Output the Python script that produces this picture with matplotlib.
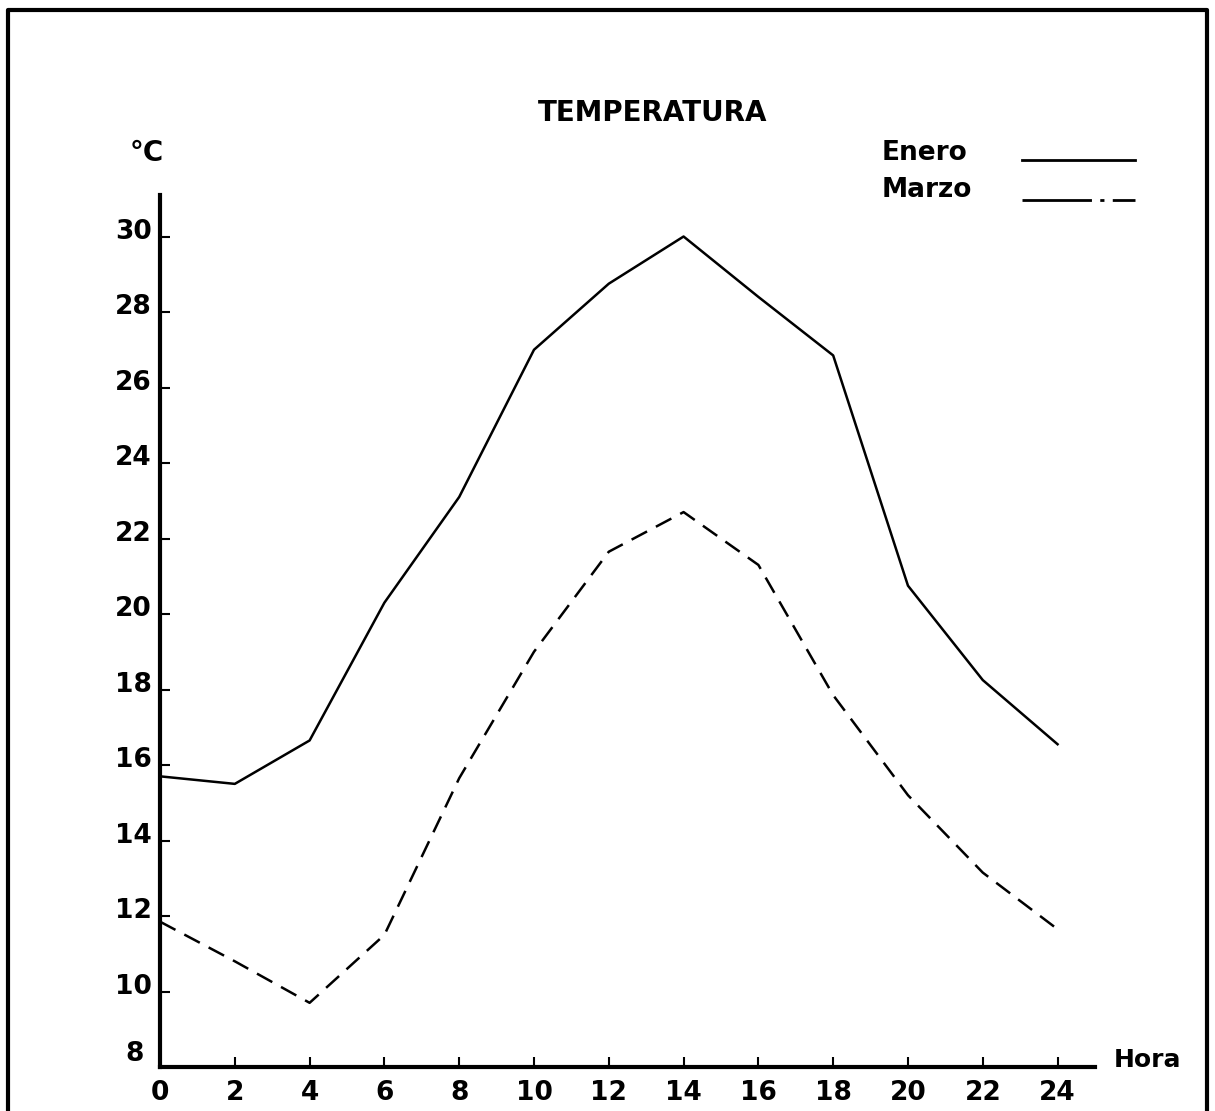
import matplotlib
matplotlib.use("Agg")
import matplotlib.pyplot as plt
import matplotlib.transforms as mtransforms
from matplotlib.lines import Line2D

# hours of the day
hora = [0, 2, 4, 6, 8, 10, 12, 14, 16, 18, 20, 22, 24]
# temperatura media horaria (°C)
enero = [15.7, 15.5, 16.65, 20.3, 23.1, 27.0, 28.75, 30.0, 28.4, 26.85, 20.75, 18.25, 16.55]
marzo = [11.85, 10.8, 9.7, 11.5, 15.65, 19.0, 21.65, 22.7, 21.3, 17.85, 15.2, 13.15, 11.65]

xticks = list(range(0, 25, 2))
yticks = list(range(8, 31, 2))

plt.rcParams['font.family'] = ['DejaVu Sans']
plt.rcParams['font.weight'] = 'bold'

fig = plt.figure(figsize=(12.15, 11.11), dpi=100)
ax = fig.add_axes([0.1317, 0.0396, 0.7695, 0.7849])

ax.plot(hora, enero, color='black', linewidth=1.8)
ax.plot(hora, marzo, color='black', linewidth=1.8, linestyle=(0, (7, 4)))

ax.set_xlim(0, 25)
ax.set_ylim(8, 31.1)

for side in ['top', 'right']:
    ax.spines[side].set_visible(False)
for side in ['left', 'bottom']:
    ax.spines[side].set_linewidth(3)

ax.set_xticks(xticks)
ax.set_yticks(yticks)
ax.tick_params(axis='both', direction='in', length=7, width=1.5, labelsize=19)
ax.tick_params(axis='x', pad=9)
ax.tick_params(axis='y', pad=6)

# y labels sit a little above their ticks in the original
offset = mtransforms.ScaledTranslation(0, 8 / 100, fig.dpi_scale_trans)
for lab in ax.get_yticklabels():
    lab.set_transform(lab.get_transform() + offset)
for lab in ax.get_yticklabels()[:1]:
    lab.set_transform(lab.get_transform() + mtransforms.ScaledTranslation(-0.08, 0.08, fig.dpi_scale_trans))

fig.text(653 / 1215, 1 - 113 / 1111, 'TEMPERATURA', ha='center', va='center', fontsize=20)
fig.text(147 / 1215, 1 - 153 / 1111, '°C', ha='center', va='center', fontsize=20)
fig.text(1147 / 1215, 1 - 1060 / 1111, 'Hora', ha='center', va='center', fontsize=18)

# legend drawn by hand, as in the original sheet
fig.text(882 / 1215, 1 - 153 / 1111, 'Enero', ha='left', va='center', fontsize=19)
fig.text(882 / 1215, 1 - 190 / 1111, 'Marzo', ha='left', va='center', fontsize=19)
fig.add_artist(Line2D([1022 / 1215, 1135 / 1215], [1 - 160 / 1111] * 2,
                      color='black', linewidth=2))
fig.add_artist(Line2D([1022 / 1215, 1135 / 1215], [1 - 200 / 1111] * 2,
                      color='black', linewidth=2, linestyle=(0, (25, 3, 1.5, 3))))

# page border
fig.add_artist(Line2D([8 / 1215, 8 / 1215, 1207 / 1215, 1207 / 1215],
                      [0, 1 - 10 / 1111, 1 - 10 / 1111, 0],
                      color='black', linewidth=3))

fig.savefig('out.png', dpi=100)
